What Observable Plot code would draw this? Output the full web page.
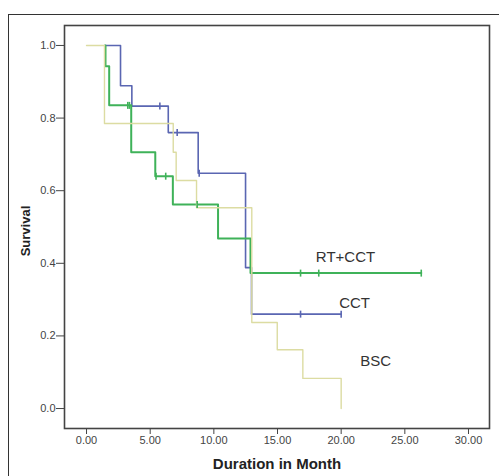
<!DOCTYPE html>
<html>
<head>
<meta charset="utf-8">
<script src="https://cdn.jsdelivr.net/npm/d3@7"></script>
<script src="https://cdn.jsdelivr.net/npm/@observablehq/plot@0.6"></script>
<style>
  html, body { margin: 0; padding: 0; background: #fff; overflow: hidden; }
  #wrap { position: relative; width: 499px; height: 476px; }
  #border { position: absolute; left: 8px; top: 14px; width: 700px; height: 700px;
            border-left: 1px solid #333; border-top: 1px solid #333; }
  #chart { position: absolute; left: 0; top: 0; }
</style>
</head>
<body>
<div id="wrap"><div id="border"></div><div id="chart"></div></div>
<script>
// Kaplan–Meier step data
const groups = ["CCT", "RT+CCT", "BSC"];

const cctTime = [1.45, 2.67, 3.56, 6.42, 8.77, 12.49, 12.96, 20.0];
const cctSurv = [1, 0.889, 0.833, 0.76, 0.648, 0.388, 0.26, 0.26];
const cctCensTime = [5.76, 7.12, 8.85, 16.81, 20.0];
const cctCensSurv = [0.833, 0.76, 0.648, 0.26, 0.26];

const rtTime = [1.45, 1.49, 1.78, 3.51, 5.40, 6.78, 10.33, 12.88, 26.29];
const rtSurv = [1, 0.943, 0.835, 0.706, 0.64, 0.562, 0.468, 0.373, 0.373];
const rtCensTime = [3.24, 3.37, 5.46, 6.22, 8.69, 16.81, 18.24, 26.29];
const rtCensSurv = [0.835, 0.835, 0.64, 0.64, 0.562, 0.373, 0.373, 0.373];

const bscTime = [0, 1.41, 6.81, 7.04, 8.64, 12.98, 14.98, 16.99, 20.0];
const bscSurv = [1, 0.785, 0.706, 0.628, 0.553, 0.237, 0.162, 0.083, 0.0];

const labelText = ["RT+CCT", "CCT", "BSC"];
const labelTime = [20.34, 21.05, 22.7];
const labelSurv = [0.418, 0.289, 0.131];

const xTicks = [0, 5, 10, 15, 20, 25, 30];
const yTicks = [0, 0.2, 0.4, 0.6, 0.8, 1.0];

const colors = { "CCT": "#5a66b2", "RT+CCT": "#3fb259", "BSC": "#dcdca2" };

const rows = (t, s, g) => t.map((v, i) => ({ t: v, s: s[i], g }));
const cctRows = rows(cctTime, cctSurv, "CCT");
const rtRows = rows(rtTime, rtSurv, "RT+CCT");
const bscRows = rows(bscTime, bscSurv, "BSC");
const cctCens = rows(cctCensTime, cctCensSurv, "CCT");
const rtCens = rows(rtCensTime, rtCensSurv, "RT+CCT");
const labels = labelText.map((txt, i) => ({ txt, t: labelTime[i], s: labelSurv[i] }));

// vertical-bar symbol for censor marks
const vTick = {
  draw(ctx, size) {
    const r = Math.sqrt(size / Math.PI);
    ctx.moveTo(0, -r);
    ctx.lineTo(0, r);
  }
};

const chart = Plot.plot({
  width: 499,
  height: 476,
  marginLeft: 64,
  marginRight: 10,
  marginTop: 25,
  marginBottom: 48,
  style: { fontFamily: "'Liberation Sans', Arial, sans-serif", background: "transparent" },
  x: { domain: [-1.73, 31.65] },
  y: { domain: [-0.055, 1.055] },
  marks: [
    Plot.axisX({ ticks: xTicks, tickFormat: ".2f", tickSize: 6, tickPadding: 2, fontSize: 11, color: "#444", label: null }),
    Plot.axisY({ ticks: yTicks, tickFormat: ".1f", tickSize: 8, tickPadding: 1, fontSize: 11, color: "#444", label: null }),
    Plot.line(cctRows, { x: "t", y: "s", curve: "step-after", stroke: colors["CCT"], strokeWidth: 1.6 }),
    Plot.line(rtRows, { x: "t", y: "s", curve: "step-after", stroke: colors["RT+CCT"], strokeWidth: 2 }),
    Plot.line(bscRows, { x: "t", y: "s", curve: "step-after", stroke: colors["BSC"], strokeWidth: 1.4 }),
    Plot.dot(cctCens, { x: "t", y: "s", symbol: vTick, r: 3.5, fill: "none", stroke: colors["CCT"], strokeWidth: 1.6 }),
    Plot.dot(rtCens, { x: "t", y: "s", symbol: vTick, r: 3.5, fill: "none", stroke: colors["RT+CCT"], strokeWidth: 1.6 }),
    Plot.text(labels, { x: "t", y: "s", text: "txt", fontSize: 15, fill: "#333", textAnchor: "middle", lineAnchor: "middle" }),
    Plot.text(["Survival"], { frameAnchor: "left", dx: -39, dy: 4, rotate: -90, textAnchor: "middle", lineAnchor: "middle", fontSize: 13, fontWeight: "bold", fill: "#222" }),
    Plot.text(["Duration in Month"], { frameAnchor: "bottom", dy: 36, textAnchor: "middle", lineAnchor: "middle", fontSize: 15, fontWeight: "bold", fill: "#222" }),
    Plot.frame({ stroke: "#444", strokeWidth: 1.6 })
  ]
});
document.getElementById("chart").appendChild(chart);
</script>
</body>
</html>
